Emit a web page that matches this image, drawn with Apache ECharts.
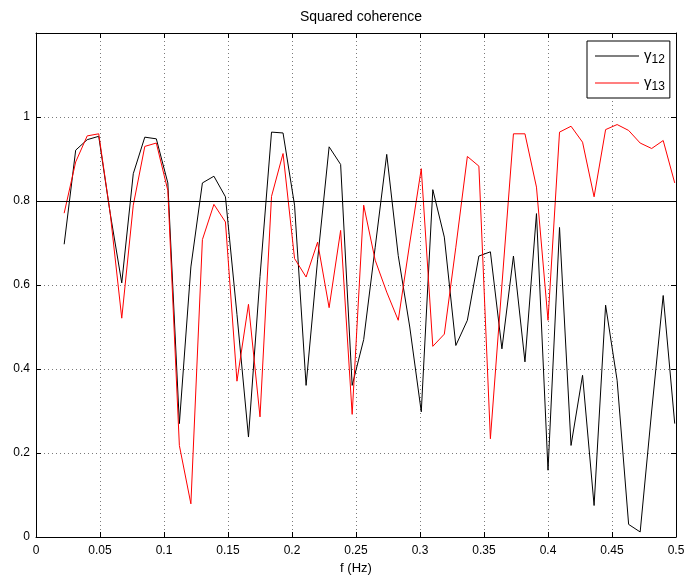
<!DOCTYPE html>
<html>
<head>
<meta charset="utf-8">
<script src="https://cdn.jsdelivr.net/npm/echarts@6/dist/echarts.min.js"></script>
<style>
html,body{margin:0;padding:0;background:#fff;}
#c{width:684px;height:577px;}
</style>
</head>
<body>
<div id="c"></div>
<script>
const freq = [0.0220,0.0310,0.0400,0.0490,0.0580,0.0670,0.0760,0.0850,0.0940,0.1030,
  0.1120,0.1210,0.1300,0.1390,0.1480,0.1570,0.1660,0.1750,0.1840,0.1930,
  0.2020,0.2110,0.2200,0.2290,0.2380,0.2470,0.2560,0.2650,0.2740,0.2830,
  0.2920,0.3010,0.3100,0.3190,0.3280,0.3370,0.3460,0.3550,0.3640,0.3730,
  0.3820,0.3910,0.4000,0.4090,0.4180,0.4270,0.4360,0.4450,0.4540,0.4630,
  0.4720,0.4810,0.4900,0.4990];
const gamma12 = [0.697,0.921,0.946,0.954,0.77,0.605,0.865,0.952,0.948,0.843,
  0.270,0.643,0.843,0.859,0.810,0.53,0.238,0.62,0.964,0.962,
  0.79,0.361,0.66,0.929,0.887,0.361,0.470,0.69,0.911,0.67,
  0.50,0.298,0.827,0.714,0.456,0.516,0.669,0.679,0.448,0.669,
  0.417,0.770,0.159,0.737,0.218,0.385,0.075,0.552,0.373,0.030,
  0.012,0.30,0.575,0.270];
const gamma13 = [0.771,0.893,0.955,0.960,0.77,0.521,0.79,0.930,0.938,0.825,
  0.218,0.079,0.708,0.792,0.750,0.371,0.554,0.286,0.811,0.913,
  0.663,0.619,0.702,0.546,0.730,0.292,0.790,0.659,0.583,0.516,
  0.70,0.877,0.454,0.483,0.69,0.906,0.883,0.234,0.60,0.960,
  0.960,0.833,0.516,0.964,0.978,0.940,0.810,0.970,0.982,0.968,
  0.938,0.925,0.944,0.843];
const seriesNames = ['γ12','γ13'];
const threshold = 0.8;
const xTicks = {min:0, max:0.5, interval:0.05};
const yTicks = {min:0, max:1.2, interval:0.2};

const FONT = '"Liberation Sans", Arial, Helvetica, sans-serif';
const chart = echarts.init(document.getElementById('c'), null, {renderer:'canvas'});

function pairs(ys){ return freq.map((f,i)=>[f, ys[i]]); }

const gridLine = {show:true, lineStyle:{color:'#7a7a7a', type:[1,3], width:1}};
const axisLine = {show:true, onZero:false, lineStyle:{color:'#000', width:1}};

chart.setOption({
  animation:false,
  backgroundColor:'#fff',
  title:{
    text:'Squared coherence', left:356, top:5, textAlign:'center',
    textStyle:{fontFamily:FONT, fontSize:14, fontWeight:'normal', color:'#000'}
  },
  grid:{left:36, right:8, top:33, bottom:40, containLabel:false, outerBoundsMode:'none'},
  legend:{
    orient:'vertical', left:587, top:41,
    padding:[5,5,5,8],
    itemGap:7,
    itemWidth:44, itemHeight:1,
    icon:'rect',
    borderColor:'#000', borderWidth:1, backgroundColor:'#fff',
    data:seriesNames,
    formatter:function(n){ return '{g|γ}{s|' + n.slice(1) + '}'; },
    textStyle:{
      fontFamily:FONT, color:'#000', lineHeight:20,
      rich:{
        g:{fontFamily:FONT, fontSize:15, lineHeight:20, color:'#000', verticalAlign:'middle'},
        s:{fontFamily:FONT, fontSize:12, lineHeight:20, color:'#000', verticalAlign:'bottom'}
      }
    }
  },
  xAxis:[{
    type:'value', min:xTicks.min, max:xTicks.max, interval:xTicks.interval,
    name:'f (Hz)', nameLocation:'middle', nameGap:24,
    nameTextStyle:{fontFamily:FONT, fontSize:13, color:'#000'},
    axisLine:axisLine,
    axisTick:{show:true, inside:true, length:5, lineStyle:{color:'#000'}},
    axisLabel:{fontFamily:FONT, fontSize:12, color:'#000', margin:8,
      formatter:function(v){ return String(+v.toFixed(2)); }},
    splitLine:gridLine
  },{
    type:'value', position:'top', min:xTicks.min, max:xTicks.max, interval:xTicks.interval,
    axisLine:axisLine,
    axisTick:{show:true, inside:true, length:5, lineStyle:{color:'#000'}},
    axisLabel:{show:false}, splitLine:{show:false}
  }],
  yAxis:[{
    type:'value', min:yTicks.min, max:yTicks.max, interval:yTicks.interval,
    axisLine:axisLine,
    axisTick:{show:true, inside:true, length:5, lineStyle:{color:'#000'}},
    axisLabel:{fontFamily:FONT, fontSize:12, color:'#000', margin:6,
      formatter:function(v){ return v > 1.05 ? '' : String(+v.toFixed(1)); }},
    splitLine:gridLine
  },{
    type:'value', position:'right', min:yTicks.min, max:yTicks.max, interval:yTicks.interval,
    axisLine:axisLine,
    axisTick:{show:true, inside:true, length:5, lineStyle:{color:'#000'}},
    axisLabel:{show:false}, splitLine:{show:false}
  }],
  series:[{
    name:seriesNames[0], type:'line', data:pairs(gamma12),
    symbol:'none', color:'#000', lineStyle:{color:'#000', width:1},
    markLine:{silent:true, symbol:'none', label:{show:false},
      lineStyle:{color:'#000', type:'solid', width:1},
      data:[{yAxis:threshold}]}
  },{
    name:seriesNames[1], type:'line', data:pairs(gamma13),
    symbol:'none', color:'#ff0000', lineStyle:{color:'#ff0000', width:1}
  }]
});
</script>
</body>
</html>
